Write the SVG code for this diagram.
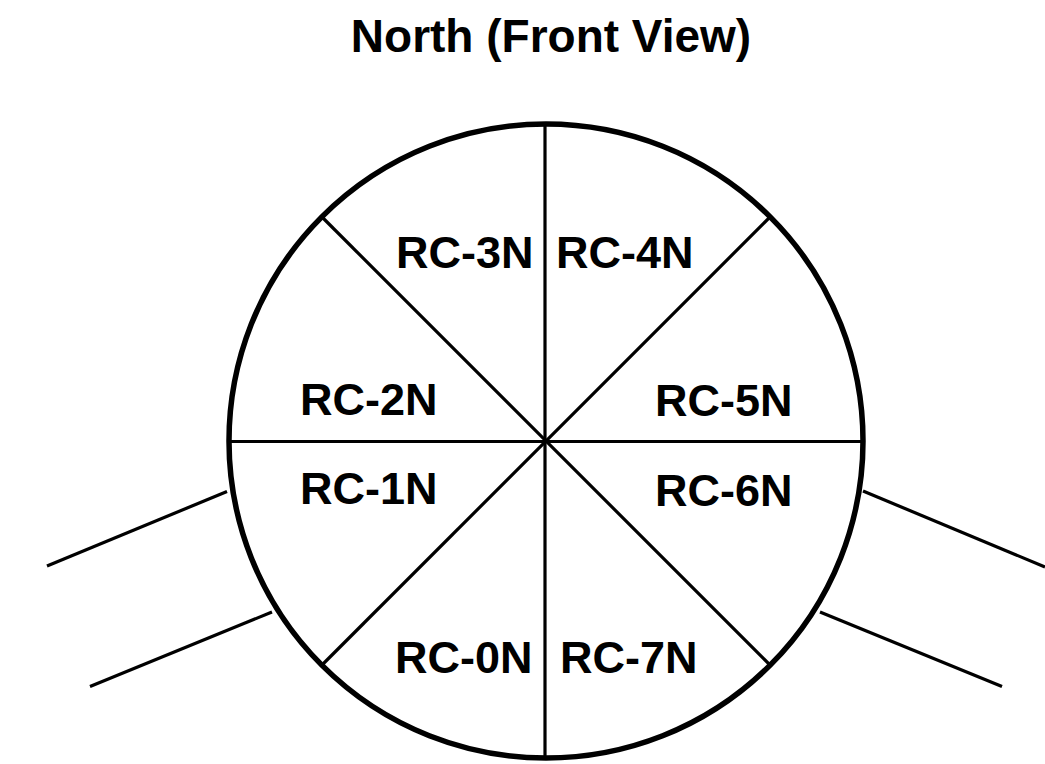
<svg xmlns="http://www.w3.org/2000/svg" width="1045" height="764" viewBox="0 0 1045 764">
<style>
.lbl{font-family:"Liberation Sans",Arial,sans-serif;font-weight:bold;font-size:45px;fill:#000}
.title{font-family:"Liberation Sans",Arial,sans-serif;font-weight:bold;font-size:46px;fill:#000}
.ln{stroke:#000;stroke-width:3.2;fill:none;stroke-linecap:butt}
.rim{stroke:#000;stroke-width:5.5;fill:#fff}
</style>
<rect width="1045" height="764" fill="#fff"/>
<text class="title" x="551" y="52" text-anchor="middle">North (Front View)</text>
<g id="connectors">
<line class="ln" x1="47" y1="566" x2="227" y2="491.5"/>
<line class="ln" x1="90" y1="686.5" x2="272" y2="612"/>
<line class="ln" x1="863" y1="491" x2="1045" y2="567"/>
<line class="ln" x1="820" y1="612" x2="1002" y2="686.5"/>
</g>
<g id="wheel">
<circle class="rim" cx="546" cy="441" r="317"/>
<line class="ln" x1="545" y1="124" x2="545" y2="758"/>
<line class="ln" x1="229" y1="441.5" x2="863" y2="441.5"/>
<line class="ln" x1="321" y1="216" x2="770" y2="665"/>
<line class="ln" x1="770" y1="217" x2="322" y2="665"/>
</g>
<g id="RC-3N"><text class="lbl" x="396" y="268">RC-3N</text></g>
<g id="RC-4N"><text class="lbl" x="556" y="268">RC-4N</text></g>
<g id="RC-2N"><text class="lbl" x="300" y="415">RC-2N</text></g>
<g id="RC-5N"><text class="lbl" x="655" y="416">RC-5N</text></g>
<g id="RC-1N"><text class="lbl" x="300" y="504">RC-1N</text></g>
<g id="RC-6N"><text class="lbl" x="655" y="506">RC-6N</text></g>
<g id="RC-0N"><text class="lbl" x="395" y="673">RC-0N</text></g>
<g id="RC-7N"><text class="lbl" x="560" y="673">RC-7N</text></g>
</svg>
